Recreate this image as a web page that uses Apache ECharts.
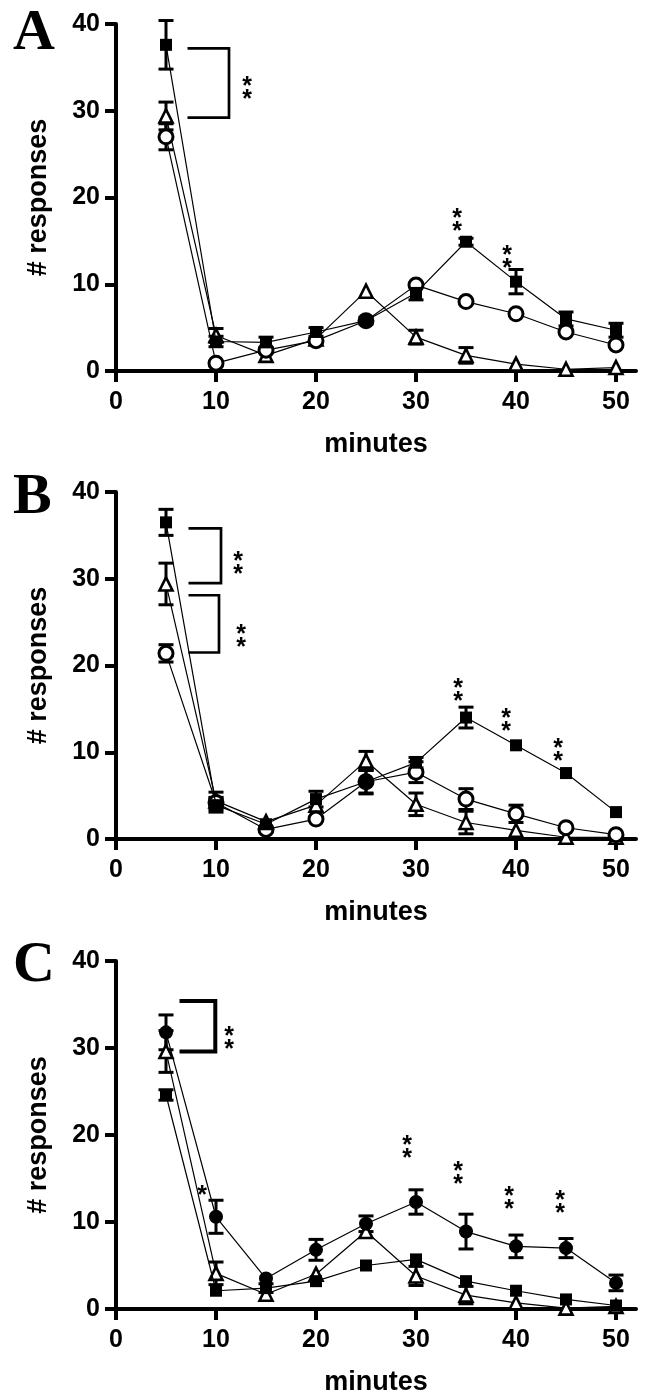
<!DOCTYPE html>
<html>
<head>
<meta charset="utf-8">
<script src="https://cdn.jsdelivr.net/npm/echarts@6/dist/echarts.min.js"></script>
<style>
html,body{margin:0;padding:0;background:#fff;}
#chart{width:653px;height:1397px;}
</style>
</head>
<body>
<div id="chart"></div>
<script>
// ---- data ----
const minutes = [5, 10, 15, 20, 25, 30, 35, 40, 45, 50];
const xTickValues = [0, 10, 20, 30, 40, 50];
const yTickValues = [0, 10, 20, 30, 40];
const panelLetters = ['A', 'B', 'C'];

// Panel A
const aSquare     = [37.6, 3.4, 3.3, 4.5, 5.8, 9.0, 14.9, 10.3, 6.0, 4.7];
const aSquareErr  = [2.8, 0.6, 0.6, 0.5, 0.4, 0.8, 0.4, 1.4, 0.8, 0.8];
const aTriangle   = [29.4, 4.1, 1.8, 3.7, 9.2, 3.9, 1.8, 0.8, 0.2, 0.4];
const aTriangleErr= [1.6, 0.8, 0, 0, 0, 0.8, 0.9, 0, 0, 0];
const aCircle     = [27.0, 0.9, 2.4, 3.5, 5.8, 9.9, 8.0, 6.6, 4.5, 3.0];
const aCircleErr  = [1.5, 0, 0, 0, 0, 0, 0, 0, 0, 0];

// Panel B
const bSquare     = [36.5, 3.9, 1.7, 4.6, 6.6, 8.8, 14.0, 10.8, 7.6, 3.1];
const bSquareErr  = [1.5, 0.8, 0, 0.9, 1.3, 0.6, 1.2, 0, 0, 0];
const bTriangle   = [29.4, 4.4, 2.0, 3.9, 9.0, 4.0, 1.9, 1.0, 0.2, 0.2];
const bTriangleErr= [2.4, 1.0, 0, 0, 1.1, 1.3, 1.3, 0, 0, 0];
const bCircle     = [21.4, 4.2, 1.1, 2.3, 6.6, 7.7, 4.6, 2.9, 1.3, 0.5];
const bCircleErr  = [1.0, 0.6, 0, 0, 1.4, 1.2, 1.2, 1.0, 0, 0];

// Panel C
const cCircle     = [31.8, 10.6, 3.5, 6.8, 9.8, 12.3, 8.9, 7.2, 7.0, 3.0];
const cCircleErr  = [2.0, 1.9, 0, 1.2, 0.9, 1.4, 2.0, 1.3, 1.1, 0.9];
const cTriangle   = [29.6, 4.1, 1.7, 4.0, 8.9, 3.8, 1.6, 0.7, 0.1, 0.3];
const cTriangleErr= [2.4, 1.3, 0, 0, 0, 1.1, 1.0, 0, 0, 0];
const cSquare     = [24.6, 2.1, 2.4, 3.2, 5.0, 5.7, 3.2, 2.1, 1.1, 0.4];
const cSquareErr  = [0.6, 0, 0.5, 0, 0, 0, 0, 0, 0, 0];

// Annotations (data coordinates): brackets [xLeft, xRight, yTop, yBottom], stars [x, y, text]
const aBrackets = [[7.15, 11.3, 37.2, 29.2]];
const aStars = [[13.1, 32.6, '**'], [34.1, 17.4, '**'], [39.1, 13.2, '**']];
const bBrackets = [[7.25, 10.5, 35.8, 29.5], [7.25, 10.3, 28.1, 21.5]];
const bStars = [[12.2, 31.8, '**'], [12.5, 23.4, '**'], [34.2, 17.2, '**'], [39.0, 13.7, '**'], [44.2, 10.3, '**']];
const cBrackets = [[6.35, 9.93, 35.4, 29.6]];
const cStars = [[11.3, 31.2, '**'], [8.6, 13.6, '*'], [29.1, 18.6, '**'], [34.2, 15.7, '**'], [39.3, 12.8, '**'], [44.4, 12.3, '**']];

// ---- chart ----
const FONT = '"Liberation Sans", Arial, sans-serif';
const grids = [
  {left: 116, top: 24, width: 520, height: 347},
  {left: 116, top: 492, width: 520, height: 347},
  {left: 116, top: 961, width: 520, height: 349.5}
];
const letterY = [31, 495, 963];
const bracketWidths = [2.7, 2.7, 4];
const STAR_SIZE = 25;

function pairs(ys, errs) {
  return minutes.map((m, i) => [m, ys[i], errs ? errs[i] : 0]);
}

function errorBarSeries(idx, ys, errs) {
  return {
    type: 'custom', xAxisIndex: idx, yAxisIndex: idx, z: 1, silent: true,
    data: pairs(ys, errs),
    renderItem: function (params, api) {
      const x = api.value(0), y = api.value(1), e = api.value(2);
      if (!e) return null;
      const top = api.coord([x, y + e]);
      const bot = api.coord([x, y - e]);
      const hw = 7.5;
      const st = {stroke: '#000', lineWidth: 3};
      return {
        type: 'group', children: [
          {type: 'line', shape: {x1: top[0], y1: top[1], x2: bot[0], y2: bot[1]}, style: st},
          {type: 'line', shape: {x1: top[0] - hw, y1: top[1], x2: top[0] + hw, y2: top[1]}, style: st},
          {type: 'line', shape: {x1: bot[0] - hw, y1: bot[1], x2: bot[0] + hw, y2: bot[1]}, style: st}
        ]
      };
    }
  };
}

function lineSeries(idx, ys, kind, z) {
  const s = {
    type: 'line', xAxisIndex: idx, yAxisIndex: idx, z: z, silent: true,
    data: pairs(ys).map(p => [p[0], p[1]]),
    lineStyle: {color: '#000', width: 1.2},
    animation: false
  };
  if (kind === 'square') {
    s.symbol = 'rect'; s.symbolSize = 12;
    s.itemStyle = {color: '#000', borderWidth: 0};
  } else if (kind === 'circleFilled') {
    s.symbol = 'circle'; s.symbolSize = 14;
    s.itemStyle = {color: '#000', borderWidth: 0};
  } else if (kind === 'circle') {
    s.symbol = 'circle'; s.symbolSize = 14;
    s.itemStyle = {color: '#fff', borderColor: '#000', borderWidth: 3};
  } else if (kind === 'triangle') {
    s.symbol = 'triangle'; s.symbolSize = 13;
    s.itemStyle = {color: '#fff', borderColor: '#000', borderWidth: 2.6};
  }
  return s;
}

function bracketSeries(idx, brackets) {
  return {
    type: 'custom', xAxisIndex: idx, yAxisIndex: idx, z: 5, silent: true,
    data: brackets,
    renderItem: function (params, api) {
      const a = api.coord([api.value(0), api.value(2)]);
      const b = api.coord([api.value(1), api.value(2)]);
      const c = api.coord([api.value(1), api.value(3)]);
      const d = api.coord([api.value(0), api.value(3)]);
      return {
        type: 'polyline',
        shape: {points: [a, b, c, d]},
        style: {stroke: '#000', lineWidth: bracketWidths[idx], fill: null}
      };
    }
  };
}

function starSeries(idx, stars) {
  return {
    type: 'custom', xAxisIndex: idx, yAxisIndex: idx, z: 5, silent: true,
    data: stars.map(s => [s[0], s[1]]),
    renderItem: function (params, api) {
      const p = api.coord([api.value(0), api.value(1)]);
      const txt = stars[params.dataIndex][2].split('').join('\n');
      return {
        type: 'text', x: p[0], y: p[1] + STAR_SIZE * 0.23,
        style: {
          text: txt, fill: '#000', font: 'bold ' + STAR_SIZE + 'px ' + FONT,
          textAlign: 'center', textVerticalAlign: 'middle',
          align: 'center', verticalAlign: 'middle', lineHeight: 13
        }
      };
    }
  };
}

const xAxes = grids.map((g, i) => ({
  gridIndex: i, type: 'value', min: 0, max: 52, interval: 10,
  axisLine: {show: true, onZero: false, lineStyle: {color: '#000', width: 4}},
  axisTick: {show: true, length: 11, customValues: xTickValues, lineStyle: {color: '#000', width: 4}},
  axisLabel: {customValues: xTickValues, fontSize: 25, fontWeight: 'bold', color: '#000', fontFamily: FONT, margin: 19},
  splitLine: {show: false},
  name: 'minutes', nameLocation: 'middle', nameGap: 60,
  nameTextStyle: {fontSize: 27, fontWeight: 'bold', color: '#000', fontFamily: FONT}
}));

const yAxes = grids.map((g, i) => ({
  gridIndex: i, type: 'value', min: 0, max: 40, interval: 10,
  axisLine: {show: true, onZero: false, lineStyle: {color: '#000', width: 4}},
  axisTick: {show: true, length: 11, lineStyle: {color: '#000', width: 4}},
  axisLabel: {fontSize: 25, fontWeight: 'bold', color: '#000', fontFamily: FONT, margin: 16},
  splitLine: {show: false},
  name: '# responses', nameLocation: 'middle', nameGap: 64, nameRotate: 90,
  nameTextStyle: {fontSize: 27, fontWeight: 'bold', color: '#000', fontFamily: FONT}
}));

const series = [
  // Panel A
  errorBarSeries(0, aTriangle, aTriangleErr),
  errorBarSeries(0, aCircle, aCircleErr),
  errorBarSeries(0, aSquare, aSquareErr),
  lineSeries(0, aTriangle, 'triangle', 2),
  lineSeries(0, aCircle, 'circle', 3),
  lineSeries(0, aSquare, 'square', 4),
  bracketSeries(0, aBrackets),
  starSeries(0, aStars),
  // Panel B
  errorBarSeries(1, bTriangle, bTriangleErr),
  errorBarSeries(1, bCircle, bCircleErr),
  errorBarSeries(1, bSquare, bSquareErr),
  lineSeries(1, bTriangle, 'triangle', 2),
  lineSeries(1, bCircle, 'circle', 3),
  lineSeries(1, bSquare, 'square', 4),
  bracketSeries(1, bBrackets),
  starSeries(1, bStars),
  // Panel C
  errorBarSeries(2, cTriangle, cTriangleErr),
  errorBarSeries(2, cSquare, cSquareErr),
  errorBarSeries(2, cCircle, cCircleErr),
  lineSeries(2, cTriangle, 'triangle', 2),
  lineSeries(2, cSquare, 'square', 3),
  lineSeries(2, cCircle, 'circleFilled', 4),
  bracketSeries(2, cBrackets),
  starSeries(2, cStars)
];

const graphic = panelLetters.map((L, i) => ({
  type: 'text', left: 13, top: letterY[i] - 26, z: 10,
  style: {text: L, fill: '#000', font: 'bold 58px "Liberation Serif", "Times New Roman", serif'}
}));

const chart = echarts.init(document.getElementById('chart'), null, {renderer: 'canvas'});
chart.setOption({
  animation: false,
  backgroundColor: '#fff',
  grid: grids,
  xAxis: xAxes,
  yAxis: yAxes,
  series: series,
  graphic: graphic
});
</script>
</body>
</html>
